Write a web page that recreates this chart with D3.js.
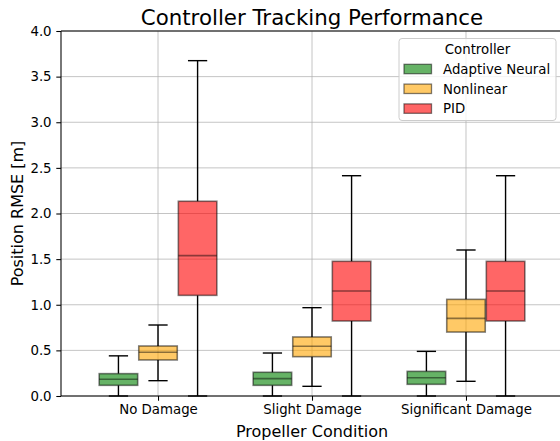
<!DOCTYPE html>
<html><head><meta charset="utf-8">
<script src="https://cdn.jsdelivr.net/npm/d3@7"></script>
<style>body{margin:0;background:#fff}svg{display:block}text{font-family:"DejaVu Sans",sans-serif}</style>
</head><body><svg id="c" width="560" height="441"></svg>
<script>
const categories = ["No Damage", "Slight Damage", "Significant Damage"];
const controllers = ["Adaptive Neural", "Nonlinear", "PID"];
const colors = ["#008000", "#FFA500", "#FF0000"];
// per controller, per category: [whiskerLow, q1, median, q3, whiskerHigh]
const adaptiveStats = [[0.0, 0.117, 0.183, 0.245, 0.44], [0.0, 0.117, 0.19, 0.26, 0.471], [0.0, 0.128, 0.2, 0.27, 0.489]];
const nonlinearStats = [[0.168, 0.395, 0.479, 0.548, 0.778], [0.106, 0.431, 0.545, 0.647, 0.968], [0.161, 0.701, 0.851, 1.059, 1.6]];
const pidStats = [[0.0, 1.103, 1.538, 2.134, 3.675], [0.0, 0.822, 1.151, 1.476, 2.414], [0.0, 0.822, 1.151, 1.476, 2.414]];
const yTicks = [0, 0.5, 1.0, 1.5, 2.0, 2.5, 3.0, 3.5, 4.0];
const allStats = [adaptiveStats, nonlinearStats, pidStats];

const svg = d3.select("#c");
const L = 61, R = 563, T = 31, B = 396;
const x = d3.scaleLinear().domain([-0.63, 2.63]).range([L, R]);
const y = d3.scaleLinear().domain([0, 4]).range([B, T]);
const offset = 0.257, bw = 0.25;

const g = svg.append("g");
// grid
g.selectAll(".gy").data(yTicks).join("line")
  .attr("x1", L).attr("x2", R).attr("y1", d => y(d)).attr("y2", d => y(d))
  .attr("stroke", "#b0b0b0").attr("stroke-opacity", 0.75).attr("stroke-width", 1);
g.selectAll(".gx").data(categories).join("line")
  .attr("x1", (d, i) => x(i)).attr("x2", (d, i) => x(i)).attr("y1", T).attr("y2", B)
  .attr("stroke", "#b0b0b0").attr("stroke-opacity", 0.75).attr("stroke-width", 1);

// boxes
allStats.forEach((stats, j) => {
  stats.forEach((s, i) => {
    const cx = x(i + (j - 1) * offset);
    const hw = (x(bw) - x(0)) / 2;
    const cw = hw / 2;
    const bg = g.append("g");
    bg.append("line").attr("x1", cx).attr("x2", cx).attr("y1", y(s[0])).attr("y2", y(s[1]))
      .attr("stroke", "#000").attr("stroke-width", 1.4);
    bg.append("line").attr("x1", cx).attr("x2", cx).attr("y1", y(s[3])).attr("y2", y(s[4]))
      .attr("stroke", "#000").attr("stroke-width", 1.4);
    [s[0], s[4]].forEach(v => bg.append("line").attr("x1", cx - cw).attr("x2", cx + cw)
      .attr("y1", y(v)).attr("y2", y(v)).attr("stroke", "#000").attr("stroke-width", 1.4));
    bg.append("rect").attr("x", cx - hw).attr("width", 2 * hw)
      .attr("y", y(s[3])).attr("height", y(s[1]) - y(s[3]))
      .attr("fill", colors[j]).attr("fill-opacity", 0.6)
      .attr("stroke", "#000").attr("stroke-opacity", 0.5).attr("stroke-width", 1.6);
    bg.append("line").attr("x1", cx - hw).attr("x2", cx + hw).attr("y1", y(s[2])).attr("y2", y(s[2]))
      .attr("stroke", "#000").attr("stroke-opacity", 0.45).attr("stroke-width", 1.6);
  });
});

// axes
const yAxis = d3.axisLeft(y).tickValues(yTicks).tickFormat(d3.format(".1f")).tickSize(4.7).tickPadding(4.7);
const ya = svg.append("g").attr("transform", `translate(${L},0)`).call(yAxis);
ya.select(".domain").remove();
const xAxis = d3.axisBottom(x).tickValues([0, 1, 2]).tickFormat(i => categories[i]).tickSize(4.7).tickPadding(3.8);
const xa = svg.append("g").attr("transform", `translate(0,${B})`).call(xAxis);
xa.select(".domain").remove();
[ya, xa].forEach(a => {
  a.selectAll("text").attr("font-size", 13.33).attr("fill", "#000").attr("font-family", "DejaVu Sans");
  a.selectAll(".tick line").attr("stroke", "#000").attr("stroke-width", 1.07);
});
// spines
svg.append("line").attr("x1", L).attr("x2", L).attr("y1", T).attr("y2", B).attr("stroke", "#000").attr("stroke-width", 1.07);
svg.append("line").attr("x1", L).attr("x2", R).attr("y1", B).attr("y2", B).attr("stroke", "#000").attr("stroke-width", 1.07);
svg.append("line").attr("x1", L).attr("x2", R).attr("y1", T).attr("y2", T).attr("stroke", "#000").attr("stroke-width", 1.07);

// labels
svg.append("text").attr("x", (L + R) / 2).attr("y", 25).attr("text-anchor", "middle")
  .attr("font-size", 21.33).text("Controller Tracking Performance");
svg.append("text").attr("x", (L + R) / 2).attr("y", 437).attr("text-anchor", "middle")
  .attr("font-size", 16).text("Propeller Condition");
svg.append("text").attr("transform", `translate(22.5,${(T + B) / 2}) rotate(-90)`).attr("text-anchor", "middle")
  .attr("font-size", 16).text("Position RMSE [m]");

// legend
const lg = svg.append("g");
lg.append("rect").attr("x", 399).attr("y", 38.5).attr("width", 157).attr("height", 82).attr("rx", 3)
  .attr("fill", "#fff").attr("fill-opacity", 0.8).attr("stroke", "#cccccc").attr("stroke-width", 1);
lg.append("text").attr("x", 477.5).attr("y", 54).attr("text-anchor", "middle").attr("font-size", 13.33).text("Controller");
controllers.forEach((c, j) => {
  const cy = 69 + j * 19.8;
  lg.append("rect").attr("x", 404).attr("y", cy - 4.7).attr("width", 27.5).attr("height", 9.4)
    .attr("fill", colors[j]).attr("fill-opacity", 0.6)
    .attr("stroke", "#000").attr("stroke-opacity", 0.5).attr("stroke-width", 1.3);
  lg.append("text").attr("x", 443).attr("y", cy + 4.8).attr("font-size", 13.33).text(c);
});
</script></body></html>
